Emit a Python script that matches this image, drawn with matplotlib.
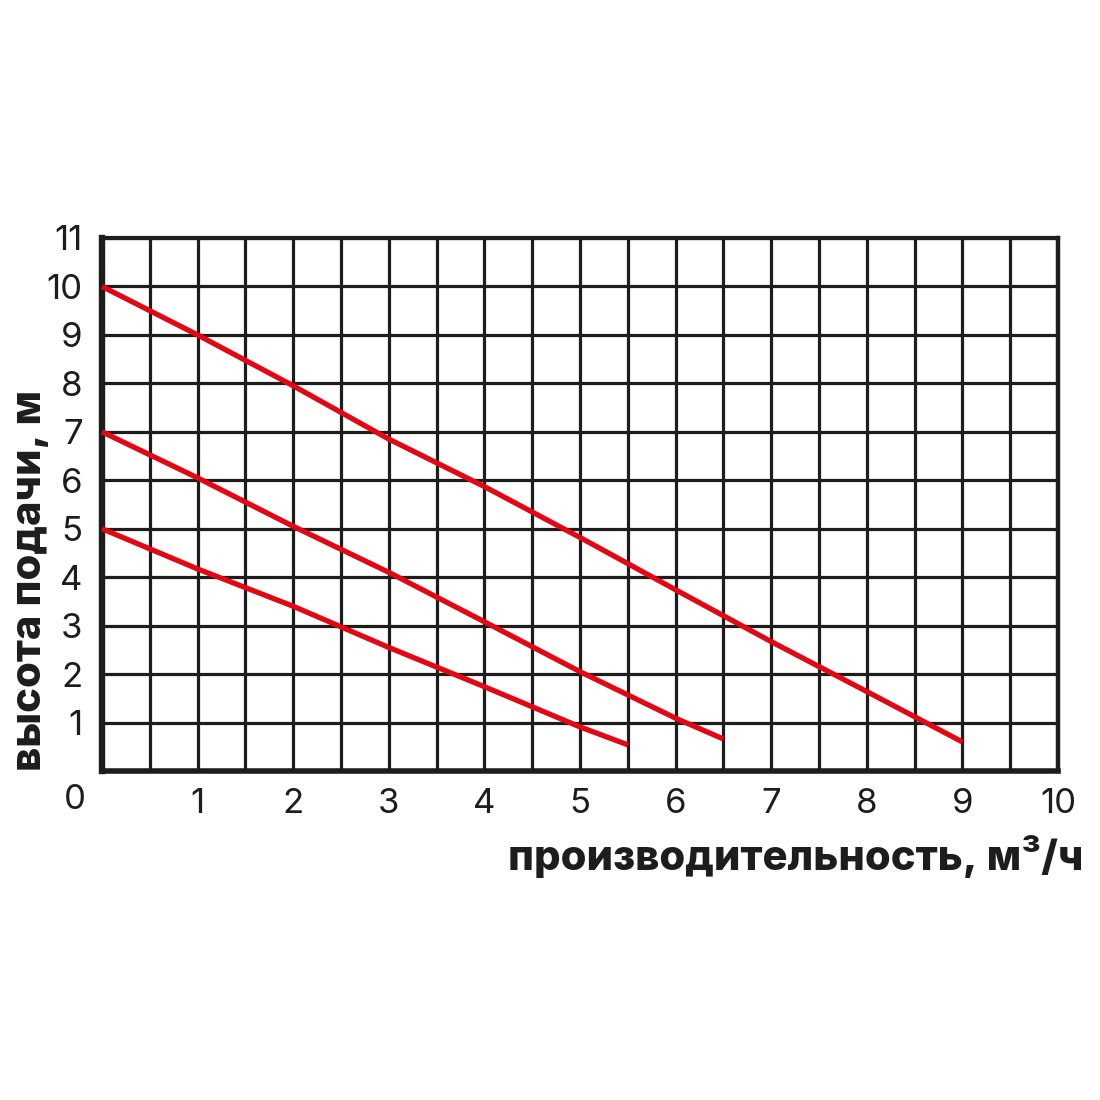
import matplotlib.pyplot as plt
import matplotlib.ticker as mticker

plt.rcParams['font.family'] = ['Inter', 'DejaVu Sans']

# --- pump curves (flow m3/h vs head m) ------------------------------------
flow_a = [0, 1, 2, 3, 4, 5, 6, 7, 8, 9]
head_a = [10, 9.0, 7.95, 6.85, 5.87, 4.82, 3.74, 2.67, 1.64, 0.6]

flow_b = [0, 1, 2, 3, 4, 5, 6, 6.5]
head_b = [7, 6.05, 5.05, 4.1, 3.08, 2.05, 1.09, 0.66]

flow_c = [0, 1, 2, 3, 4, 5, 5.5]
head_c = [5, 4.17, 3.4, 2.55, 1.74, 0.91, 0.54]

x_ticks = list(range(1, 11))
y_ticks = list(range(1, 12))

RED = "#e30613"
INK = "#1d1d1b"

fig = plt.figure(figsize=(11, 11), dpi=100)
ax = fig.add_axes([102 / 1100, 1 - 771 / 1100, (1058 - 102) / 1100, (771 - 238) / 1100])

for fx, hy in [(flow_a, head_a), (flow_b, head_b), (flow_c, head_c)]:
    ax.plot(fx, hy, color=RED, linewidth=3.8, solid_capstyle="butt", zorder=5, clip_on=False)

ax.set_xlim(0, 10)
ax.set_ylim(0, 11)
ax.set_xticks(x_ticks)
ax.set_yticks(y_ticks)
ax.xaxis.set_minor_locator(mticker.MultipleLocator(0.5))
ax.tick_params(which="both", length=0, labelsize=25, colors=INK)
ax.tick_params(axis="x", pad=12)
ax.tick_params(axis="y", pad=14)
ax.grid(which="both", color=INK, linewidth=2.3)
ax.set_axisbelow(True)

for side, w in [("left", 4.6), ("bottom", 4.0), ("top", 3.0), ("right", 3.2)]:
    ax.spines[side].set_linewidth(w)
    ax.spines[side].set_color(INK)

fig.text(75 / 1100, 1 - 800 / 1100, "0", fontsize=25, color=INK, ha="center", va="center")

fig.text(1083 / 1100, 1 - 857 / 1100, "производительность, м³/ч",
         fontsize=30, fontweight=800, color=INK, ha="right", va="center")
fig.text(30 / 1100, 1 - 771 / 1100, "высота подачи, м",
         fontsize=30, fontweight=800, color=INK, rotation=90, ha="center", va="bottom")

fig.savefig("out.png", dpi=100, facecolor="white")
